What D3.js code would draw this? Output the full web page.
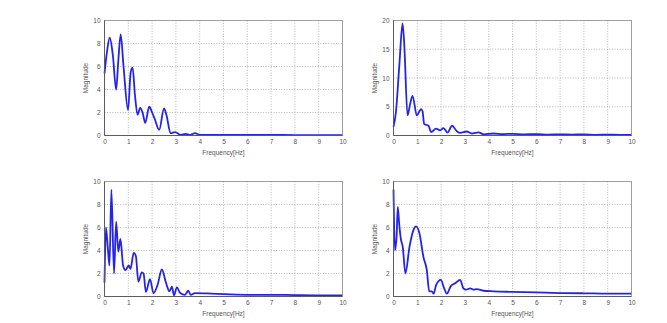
<!DOCTYPE html>
<html>
<head>
<meta charset="utf-8">
<script src="https://cdn.jsdelivr.net/npm/d3@7"></script>
<style>
  body { margin: 0; background: #fff; }
  text { font-family: "Liberation Sans", Arial, sans-serif; fill: #555; }
</style>
</head>
<body>
<script>
let svgWidth = 667;
let svgHeight = 323;

// panel 1 (top left)
let freq1 = [0, 0.1, 0.22, 0.35, 0.49, 0.58, 0.68, 0.8, 0.99, 1.1, 1.18, 1.28, 1.39, 1.5, 1.6, 1.71, 1.88, 2.0, 2.1, 2.3, 2.5, 2.6, 2.78, 2.97, 3.2, 3.4, 3.6, 3.8, 4.0, 5, 6, 7, 8, 9, 10];
let mag1 = [5.4, 7.2, 8.5, 7.0, 4.0, 6.5, 8.8, 6.0, 2.2, 5.5, 5.9, 3.5, 1.8, 2.4, 2.0, 1.1, 2.5, 2.0, 1.5, 0.5, 2.35, 1.8, 0.2, 0.3, 0.05, 0.15, 0.05, 0.2, 0.05, 0.05, 0.05, 0.05, 0.04, 0.04, 0.04];

// panel 2 (top right)
let freq2 = [0, 0.1, 0.25, 0.38, 0.45, 0.59, 0.7, 0.8, 0.98, 1.16, 1.22, 1.29, 1.47, 1.58, 1.79, 1.96, 2.1, 2.27, 2.46, 2.66, 2.8, 3.08, 3.29, 3.57, 3.8, 4.2, 4.6, 5, 5.5, 6, 6.5, 7, 7.5, 8, 8.5, 9, 9.5, 10];
let mag2 = [1.5, 4.0, 12.5, 19.5, 16.0, 3.5, 5.5, 6.9, 3.5, 4.6, 4.2, 2.0, 1.7, 0.6, 1.2, 0.9, 1.3, 0.5, 1.7, 0.75, 0.45, 0.7, 0.35, 0.55, 0.2, 0.35, 0.25, 0.3, 0.2, 0.25, 0.15, 0.2, 0.15, 0.2, 0.12, 0.15, 0.12, 0.12];

// panel 3 (bottom left)
let freq3 = [0, 0.06, 0.14, 0.21, 0.29, 0.4, 0.49, 0.58, 0.67, 0.78, 0.88, 1.02, 1.09, 1.23, 1.32, 1.42, 1.57, 1.64, 1.74, 1.91, 2.06, 2.23, 2.41, 2.59, 2.73, 2.83, 2.92, 3.04, 3.18, 3.38, 3.52, 3.62, 3.8, 4.5, 5, 6, 7, 8, 9, 10];
let mag3 = [1.2, 6.0, 4.2, 2.7, 9.3, 2.0, 6.5, 3.9, 5.0, 2.7, 2.3, 2.7, 2.4, 3.8, 3.5, 1.3, 2.1, 2.0, 0.4, 1.5, 0.3, 1.0, 2.35, 1.15, 0.45, 0.85, 0.1, 0.8, 0.3, 0.15, 0.5, 0.15, 0.3, 0.25, 0.2, 0.15, 0.15, 0.12, 0.1, 0.1];

// panel 4 (bottom right)
let freq4 = [0, 0.06, 0.13, 0.18, 0.24, 0.31, 0.39, 0.5, 0.67, 0.84, 0.95, 1.09, 1.26, 1.4, 1.5, 1.61, 1.69, 1.79, 1.99, 2.13, 2.24, 2.41, 2.59, 2.8, 2.94, 3.05, 3.22, 3.36, 3.5, 3.78, 4.2, 5, 6, 7, 8, 9, 10];
let mag4 = [9.3, 4.0, 5.2, 7.8, 6.3, 5.0, 4.3, 2.0, 4.3, 5.8, 6.1, 5.5, 3.4, 2.3, 0.45, 0.45, 0.25, 1.0, 1.45, 0.7, 0.25, 0.9, 1.15, 1.45, 0.7, 0.6, 0.7, 0.6, 0.65, 0.5, 0.45, 0.4, 0.35, 0.3, 0.28, 0.25, 0.25];

let xTicks = [0, 1, 2, 3, 4, 5, 6, 7, 8, 9, 10];
let yTicks10 = [0, 2, 4, 6, 8, 10];
let yTicks20 = [0, 5, 10, 15, 20];

let panels = [
  { freq: freq1, mag: mag1, yMax: 10, yTicks: yTicks10, left: 104.5, top: 20.5 },
  { freq: freq2, mag: mag2, yMax: 20, yTicks: yTicks20, left: 393.5, top: 20.5 },
  { freq: freq3, mag: mag3, yMax: 10, yTicks: yTicks10, left: 104.5, top: 181.5 },
  { freq: freq4, mag: mag4, yMax: 10, yTicks: yTicks10, left: 393.5, top: 181.5 }
];

let plotWidth = 238;
let plotHeight = 115;

let svg = d3.select('body')
  .append('svg')
  .attr('width', svgWidth)
  .attr('height', svgHeight);

panels.forEach(function (p) {
  let chart = svg.append('g')
    .attr('transform', `translate(${p.left}, ${p.top})`);

  let x = d3.scaleLinear().domain([0, 10]).range([0, plotWidth]);
  let y = d3.scaleLinear().domain([0, p.yMax]).range([plotHeight, 0]);

  // dotted grid
  chart.append('g')
    .selectAll('line')
    .data(xTicks.slice(1, -1))
    .enter()
    .append('line')
    .attr('x1', d => x(d)).attr('x2', d => x(d))
    .attr('y1', 0).attr('y2', plotHeight)
    .attr('stroke', '#999')
    .attr('stroke-width', 0.7)
    .attr('stroke-dasharray', '1,1.6');

  chart.append('g')
    .selectAll('line')
    .data(p.yTicks.slice(1, -1))
    .enter()
    .append('line')
    .attr('x1', 0).attr('x2', plotWidth)
    .attr('y1', d => y(d)).attr('y2', d => y(d))
    .attr('stroke', '#999')
    .attr('stroke-width', 0.7)
    .attr('stroke-dasharray', '1,1.6');

  let bottomAxis = d3.axisBottom(x).tickValues(xTicks).tickSize(0).tickPadding(4);
  let leftAxis = d3.axisLeft(y).tickValues(p.yTicks).tickSize(0).tickPadding(4);

  let gx = chart.append('g')
    .attr('transform', `translate(0, ${plotHeight})`)
    .call(bottomAxis);
  let gy = chart.append('g').call(leftAxis);

  [gx, gy].forEach(function (g) {
    g.select('.domain').remove();
    g.selectAll('text')
      .style('font-size', '6.5px')
      .style('fill', '#555')
      .style('font-family', '"Liberation Sans", Arial, sans-serif');
  });

  let line = d3.line()
    .x((d, i) => x(p.freq[i]))
    .y(d => y(d))
    .curve(d3.curveMonotoneX);

  chart.append('path')
    .datum(p.mag)
    .attr('d', line)
    .attr('fill', 'none')
    .attr('stroke', '#2424e8')
    .attr('stroke-width', 1.8)
    .attr('stroke-linejoin', 'round');

  // box: top/right lighter than left/bottom
  chart.append('rect')
    .attr('width', plotWidth)
    .attr('height', plotHeight)
    .attr('fill', 'none')
    .attr('stroke', '#888')
    .attr('stroke-width', 0.8);

  chart.append('path')
    .attr('d', `M0,0V${plotHeight}H${plotWidth}`)
    .attr('fill', 'none')
    .attr('stroke', '#555')
    .attr('stroke-width', 0.9);

  chart.append('text')
    .attr('x', plotWidth / 2)
    .attr('y', plotHeight + 19)
    .attr('text-anchor', 'middle')
    .style('font-size', '6.5px')
    .text('Frequency[Hz]');

  chart.append('text')
    .attr('transform', `translate(-17, ${plotHeight / 2}) rotate(-90)`)
    .attr('text-anchor', 'middle')
    .style('font-size', '6.5px')
    .text('Magnitude');
});
</script>
</body>
</html>
